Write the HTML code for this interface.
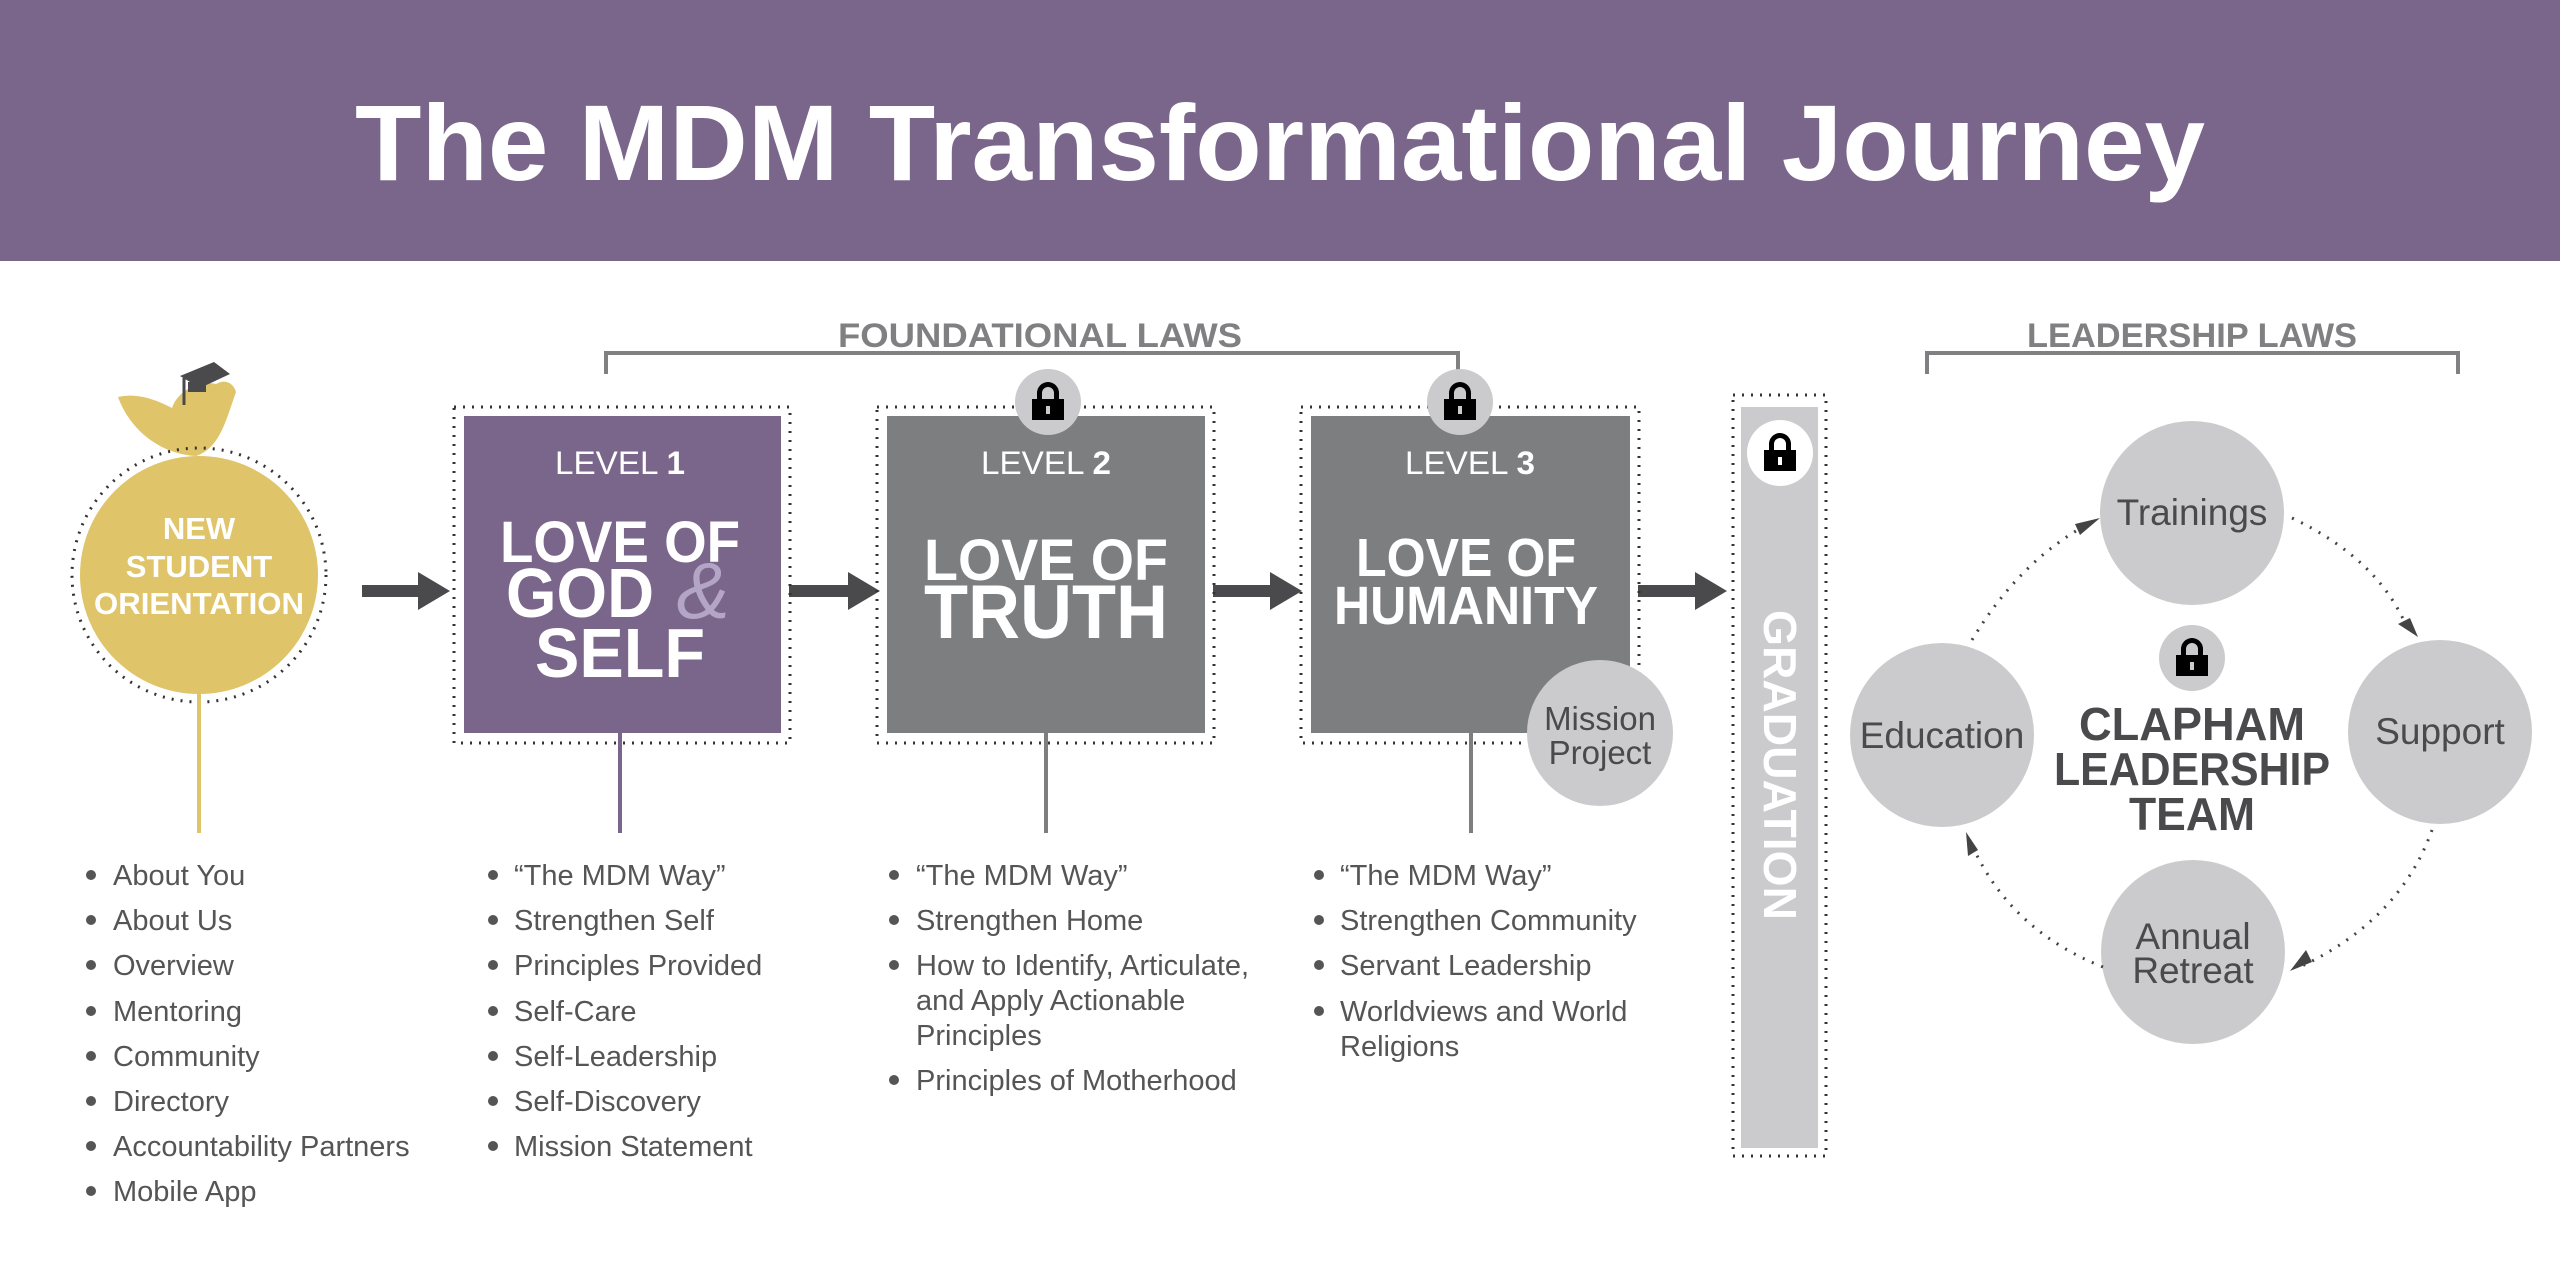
<!DOCTYPE html>
<html><head><meta charset="utf-8"><style>
html,body{margin:0;padding:0;background:#fff}
svg{display:block}
text{font-family:"Liberation Sans",sans-serif}
</style></head><body>
<svg width="2560" height="1280" viewBox="0 0 2560 1280" xmlns="http://www.w3.org/2000/svg">
<rect x="0" y="0" width="2560" height="261" fill="#7a668b"/>
<text x="1280" y="180" text-anchor="middle" fill="#fff" font-weight="bold" font-size="108" textLength="1850" lengthAdjust="spacingAndGlyphs">The MDM Transformational Journey</text>

<!-- brackets -->
<text x="1040" y="347" text-anchor="middle" fill="#808082" font-weight="bold" font-size="34" textLength="404" lengthAdjust="spacingAndGlyphs">FOUNDATIONAL LAWS</text>
<polyline points="606,374 606,353 1458,353 1458,374" fill="none" stroke="#808082" stroke-width="4"/>
<text x="2192" y="347" text-anchor="middle" fill="#808082" font-weight="bold" font-size="34" textLength="330" lengthAdjust="spacingAndGlyphs">LEADERSHIP LAWS</text>
<polyline points="1927,374 1927,353 2458,353 2458,374" fill="none" stroke="#808082" stroke-width="4"/>

<!-- bird -->
<path d="M118,397 C140,392 160,402 172,408 C178,390 200,380 216,384 C226,378 234,384 236,392 C226,420 220,448 196,456 C160,454 130,430 118,397 Z" fill="#e0c46a"/>
<path d="M180,376 L214,362 L230,374 L200,388 Z" fill="#4a4a4c"/>
<rect x="188" y="382" width="18" height="10" fill="#4a4a4c"/>
<line x1="184" y1="378" x2="184" y2="405" stroke="#4a4a4c" stroke-width="3"/>

<!-- orientation circle -->
<circle cx="199" cy="575" r="127" fill="none" stroke="#333" stroke-width="3" stroke-dasharray="2 7"/>
<circle cx="199" cy="575" r="119" fill="#e0c46a"/>
<line x1="199" y1="694" x2="199" y2="833" stroke="#e0c46a" stroke-width="4"/>
<g fill="#fff" font-weight="bold" font-size="31" text-anchor="middle">
<text x="199" y="539">NEW</text>
<text x="199" y="577">STUDENT</text>
<text x="199" y="614" textLength="210" lengthAdjust="spacingAndGlyphs">ORIENTATION</text>
</g>

<!-- arrows -->
<g fill="#4a4a4c">
<path d="M362,585 L418,585 L418,572 L450,591 L418,610 L418,597 L362,597 Z"/>
<path d="M789,585 L848,585 L848,572 L880,591 L848,610 L848,597 L789,597 Z"/>
<path d="M1213,585 L1270,585 L1270,572 L1302,591 L1270,610 L1270,597 L1213,597 Z"/>
<path d="M1638,585 L1695,585 L1695,572 L1727,591 L1695,610 L1695,597 L1638,597 Z"/>
</g>

<!-- level boxes -->
<g fill="none" stroke="#333" stroke-width="3" stroke-dasharray="2 7">
<rect x="454" y="407" width="336" height="336"/>
<rect x="877" y="407" width="337" height="336"/>
<rect x="1301" y="407" width="338" height="336"/>
<rect x="1733" y="395" width="93" height="761"/>
</g>
<rect x="464" y="416" width="317" height="317" fill="#7a668b"/>
<rect x="887" y="416" width="318" height="317" fill="#7d7e80"/>
<rect x="1311" y="416" width="319" height="317" fill="#7d7e80"/>
<line x1="620" y1="733" x2="620" y2="833" stroke="#7a668b" stroke-width="4"/>
<line x1="1046" y1="733" x2="1046" y2="833" stroke="#7d7e80" stroke-width="4"/>
<line x1="1471" y1="733" x2="1471" y2="833" stroke="#7d7e80" stroke-width="4"/>

<g fill="#fff" text-anchor="middle">
<text x="620" y="474" font-size="32" textLength="130" lengthAdjust="spacingAndGlyphs">LEVEL <tspan font-weight="bold">1</tspan></text>
<text x="1046" y="474" font-size="32" textLength="130" lengthAdjust="spacingAndGlyphs">LEVEL <tspan font-weight="bold">2</tspan></text>
<text x="1470" y="474" font-size="32" textLength="130" lengthAdjust="spacingAndGlyphs">LEVEL <tspan font-weight="bold">3</tspan></text>
<g font-weight="bold">
<text x="620" y="562" font-size="58" textLength="240" lengthAdjust="spacingAndGlyphs">LOVE OF</text>
<text x="580" y="617" font-size="70" textLength="148" lengthAdjust="spacingAndGlyphs">GOD</text>
<text x="620" y="677" font-size="70" textLength="170" lengthAdjust="spacingAndGlyphs">SELF</text>
<text x="1046" y="580" font-size="58" textLength="244" lengthAdjust="spacingAndGlyphs">LOVE OF</text>
<text x="1046" y="638" font-size="76" textLength="244" lengthAdjust="spacingAndGlyphs">TRUTH</text>
<text x="1466" y="576" font-size="54" textLength="220" lengthAdjust="spacingAndGlyphs">LOVE OF</text>
<text x="1466" y="624" font-size="54" textLength="264" lengthAdjust="spacingAndGlyphs">HUMANITY</text>
</g>
</g>
<text x="703" y="618" fill="#b4a5c6" font-family="Liberation Serif,serif" font-style="italic" font-size="80" text-anchor="middle">&amp;</text>

<!-- locks -->
<g>
<circle cx="1048" cy="402" r="33" fill="#cbcbcd"/>
<circle cx="1460" cy="402" r="33" fill="#cbcbcd"/>
<circle cx="1780" cy="453" r="33" fill="#fff"/>
<circle cx="2192" cy="658" r="33" fill="#cbcbcd"/>
</g>
<g fill="#000">
<g transform="translate(1048,402)"><path d="M-11,-2 L-11,-9 A11,11 0 0 1 11,-9 L11,-2 L6,-2 L6,-9 A6,6 0 0 0 -6,-9 L-6,-2 Z"/><rect x="-16" y="-3" width="32" height="21"/><rect x="-2" y="4" width="4" height="8" fill="#cbcbcd"/></g>
<g transform="translate(1460,402)"><path d="M-11,-2 L-11,-9 A11,11 0 0 1 11,-9 L11,-2 L6,-2 L6,-9 A6,6 0 0 0 -6,-9 L-6,-2 Z"/><rect x="-16" y="-3" width="32" height="21"/><rect x="-2" y="4" width="4" height="8" fill="#cbcbcd"/></g>
<g transform="translate(1780,453)"><path d="M-11,-2 L-11,-9 A11,11 0 0 1 11,-9 L11,-2 L6,-2 L6,-9 A6,6 0 0 0 -6,-9 L-6,-2 Z"/><rect x="-16" y="-3" width="32" height="21"/><rect x="-2" y="4" width="4" height="8" fill="#fff"/></g>
<g transform="translate(2192,658)"><path d="M-11,-2 L-11,-9 A11,11 0 0 1 11,-9 L11,-2 L6,-2 L6,-9 A6,6 0 0 0 -6,-9 L-6,-2 Z"/><rect x="-16" y="-3" width="32" height="21"/><rect x="-2" y="4" width="4" height="8" fill="#cbcbcd"/></g>
</g>

<!-- mission project -->
<circle cx="1600" cy="733" r="73" fill="#cbcbcd"/>
<g fill="#4a4a4c" font-size="33" text-anchor="middle">
<text x="1600" y="730">Mission</text>
<text x="1600" y="764">Project</text>
</g>

<!-- graduation -->
<rect x="1741" y="407" width="77" height="741" fill="#cbcbcd"/>
<circle cx="1780" cy="453" r="33" fill="#fff"/>
<g transform="translate(1780,453)"><path d="M-11,-2 L-11,-9 A11,11 0 0 1 11,-9 L11,-2 L6,-2 L6,-9 A6,6 0 0 0 -6,-9 L-6,-2 Z"/><rect x="-16" y="-3" width="32" height="21"/><rect x="-2" y="4" width="4" height="8" fill="#fff"/></g>
<text transform="translate(1764,765) rotate(90)" fill="#fff" font-weight="bold" font-size="46" text-anchor="middle" textLength="310" lengthAdjust="spacingAndGlyphs">GRADUATION</text>

<!-- leadership cycle -->
<g fill="#cbcbcd">
<circle cx="2192" cy="513" r="92"/>
<circle cx="2440" cy="732" r="92"/>
<circle cx="1942" cy="735" r="92"/>
<circle cx="2193" cy="952" r="92"/>
</g>
<g fill="none" stroke="#444" stroke-width="3" stroke-dasharray="2 8">
<path d="M1972,640 Q2020,560 2090,523"/>
<path d="M2292,518 Q2380,560 2408,630"/>
<path d="M2432,830 Q2400,920 2300,967"/>
<path d="M2103,967 Q2010,930 1972,845"/>
</g>
<g fill="#444">
<path d="M2100,518 L2080,535 L2075,524 Z"/>
<path d="M2418,637 L2398,624 L2410,618 Z"/>
<path d="M2290,971 L2306,950 L2312,962 Z"/>
<path d="M1966,832 L1968,856 L1978,850 Z"/>
</g>
<g fill="#4a4a4c" text-anchor="middle" font-size="37">
<text x="2192" y="525">Trainings</text>
<text x="2440" y="744">Support</text>
<text x="1942" y="748">Education</text>
<text x="2193" y="949">Annual</text>
<text x="2193" y="983">Retreat</text>
</g>
<g fill="#4a4a4c" text-anchor="middle" font-weight="bold" font-size="46">
<text x="2192" y="740" textLength="226" lengthAdjust="spacingAndGlyphs">CLAPHAM</text>
<text x="2192" y="785" textLength="276" lengthAdjust="spacingAndGlyphs">LEADERSHIP</text>
<text x="2192" y="830" textLength="126" lengthAdjust="spacingAndGlyphs">TEAM</text>
</g>

<!-- lists -->
<g fill="#555" font-size="29">
<g fill="#555">
<circle cx="91" cy="875" r="5"/><circle cx="91" cy="920" r="5"/><circle cx="91" cy="965" r="5"/><circle cx="91" cy="1011" r="5"/><circle cx="91" cy="1056" r="5"/><circle cx="91" cy="1101" r="5"/><circle cx="91" cy="1146" r="5"/><circle cx="91" cy="1191" r="5"/>
<circle cx="493" cy="875" r="5"/><circle cx="493" cy="920" r="5"/><circle cx="493" cy="965" r="5"/><circle cx="493" cy="1011" r="5"/><circle cx="493" cy="1056" r="5"/><circle cx="493" cy="1101" r="5"/><circle cx="493" cy="1146" r="5"/>
<circle cx="894" cy="875" r="5"/><circle cx="894" cy="920" r="5"/><circle cx="894" cy="965" r="5"/><circle cx="894" cy="1080" r="5"/>
<circle cx="1319" cy="875" r="5"/><circle cx="1319" cy="920" r="5"/><circle cx="1319" cy="965" r="5"/><circle cx="1319" cy="1011" r="5"/>
</g>
<text x="113" y="885">About You</text>
<text x="113" y="930">About Us</text>
<text x="113" y="975">Overview</text>
<text x="113" y="1021">Mentoring</text>
<text x="113" y="1066">Community</text>
<text x="113" y="1111">Directory</text>
<text x="113" y="1156">Accountability Partners</text>
<text x="113" y="1201">Mobile App</text>

<text x="514" y="885">“The MDM Way”</text>
<text x="514" y="930">Strengthen Self</text>
<text x="514" y="975">Principles Provided</text>
<text x="514" y="1021">Self-Care</text>
<text x="514" y="1066">Self-Leadership</text>
<text x="514" y="1111">Self-Discovery</text>
<text x="514" y="1156">Mission Statement</text>

<text x="916" y="885">“The MDM Way”</text>
<text x="916" y="930">Strengthen Home</text>
<text x="916" y="975">How to Identify, Articulate,</text>
<text x="916" y="1010">and Apply Actionable</text>
<text x="916" y="1045">Principles</text>
<text x="916" y="1090">Principles of Motherhood</text>

<text x="1340" y="885">“The MDM Way”</text>
<text x="1340" y="930">Strengthen Community</text>
<text x="1340" y="975">Servant Leadership</text>
<text x="1340" y="1021">Worldviews and World</text>
<text x="1340" y="1056">Religions</text>
</g>
</svg>
</body></html>
